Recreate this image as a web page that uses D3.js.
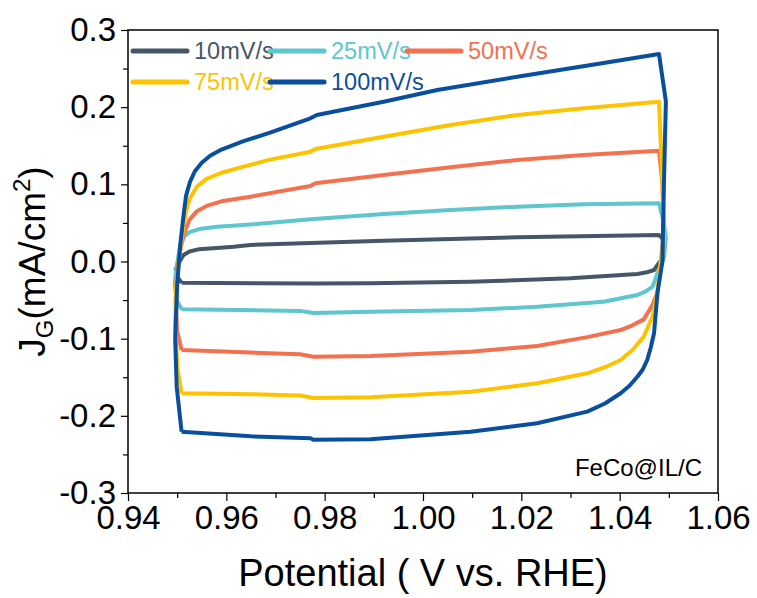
<!DOCTYPE html>
<html>
<head>
<meta charset="utf-8">
<script src="https://cdn.jsdelivr.net/npm/d3@7"></script>
<style>
  body { margin: 0; background: #fff; }
  text { font-family: "Liberation Sans", Arial, sans-serif; }
</style>
</head>
<body>
<div class="chart"></div>
<script>
// CV loops, [potential V, current density mA/cm2]
const scan10 = [
  [0.9509, -0.0275], [0.9500, -0.020], [0.9497, -0.010], [0.9505, 0.000], [0.9513, 0.0084],
  [0.9525, 0.0130], [0.9545, 0.0160], [0.9615, 0.0192], [0.9649, 0.0214], [0.9920, 0.0270],
  [1.0192, 0.0314], [1.0480, 0.0344], [1.0487, 0.030], [1.0490, 0.020], [1.0487, 0.005],
  [1.0480, -0.0019], [1.0470, -0.0110], [1.0455, -0.0140], [1.0436, -0.0162], [1.0300, -0.0218],
  [1.0097, -0.0262], [0.9893, -0.0282], [0.9777, -0.0285], [0.9509, -0.0275]
]
const scan25 = [
  [0.9509, -0.0619], [0.9499, -0.050], [0.9495, -0.030], [0.9498, -0.010], [0.9506, 0.020],
  [0.9513, 0.0320], [0.9525, 0.0380], [0.9545, 0.0420], [0.9581, 0.0451], [0.9649, 0.0480],
  [0.9771, 0.0547], [0.9920, 0.0616], [1.0056, 0.0667], [1.0192, 0.0710], [1.0327, 0.0741],
  [1.0480, 0.0754], [1.0490, 0.050], [1.0494, 0.030], [1.0490, 0.005], [1.0477, -0.0149],
  [1.0467, -0.0326], [1.0452, -0.0390], [1.0436, -0.0434], [1.0367, -0.0521], [1.0232, -0.0586],
  [1.0097, -0.0628], [0.9893, -0.0650], [0.9777, -0.0667], [0.9750, -0.0640], [0.9509, -0.0619]
]
const scan50 = [
  [0.9509, -0.1147], [0.9500, -0.090], [0.9497, -0.050], [0.9500, -0.010], [0.9508, 0.020],
  [0.9516, 0.0400], [0.9526, 0.0550], [0.9540, 0.0650], [0.9560, 0.0720], [0.9590, 0.0780],
  [0.9649, 0.0840], [0.9771, 0.0978], [0.9781, 0.1013], [0.9920, 0.1121], [1.0056, 0.1221],
  [1.0192, 0.1315], [1.0327, 0.1380], [1.0480, 0.1436], [1.0487, 0.100], [1.0490, 0.040],
  [1.0484, 0.000], [1.0477, -0.0399], [1.0467, -0.0560], [1.0449, -0.0750], [1.0425, -0.0830],
  [1.0402, -0.0888], [1.0334, -0.0980], [1.0232, -0.1095], [1.0097, -0.1169], [0.9893, -0.1224],
  [0.9777, -0.1235], [0.9750, -0.1202], [0.9650, -0.1180], [0.9509, -0.1147]
]
const scan75 = [
  [0.9509, -0.1708], [0.9501, -0.140], [0.9496, -0.0845], [0.9498, -0.030], [0.9505, 0.010],
  [0.9513, 0.0450], [0.9518, 0.0650], [0.9526, 0.0820], [0.9540, 0.0970], [0.9560, 0.1070],
  [0.9590, 0.1150], [0.9635, 0.1230], [0.9689, 0.1320], [0.9771, 0.1423], [0.9781, 0.1458],
  [0.9920, 0.1617], [1.0056, 0.1769], [1.0192, 0.1899], [1.0327, 0.1985], [1.0480, 0.2071],
  [1.0487, 0.100], [1.0490, 0.030], [1.0484, 0.002], [1.0477, -0.0399], [1.0467, -0.0710],
  [1.0449, -0.0974], [1.0427, -0.1140], [1.0402, -0.1276], [1.0370, -0.1370], [1.0334, -0.1449],
  [1.0232, -0.1578], [1.0097, -0.1687], [0.9893, -0.1760], [0.9777, -0.1769], [0.9750, -0.1735],
  [0.9650, -0.1720], [0.9509, -0.1708]
]
const scan100 = [
  [0.9509, -0.2205], [0.9499, -0.1622], [0.9496, -0.100], [0.9500, -0.030], [0.9506, 0.020],
  [0.9513, 0.0600], [0.9518, 0.0850], [0.9526, 0.1030], [0.9536, 0.1170], [0.9550, 0.1280],
  [0.9567, 0.1370], [0.9590, 0.1450], [0.9635, 0.1560], [0.9689, 0.1670], [0.9771, 0.1856],
  [0.9784, 0.1899], [0.9920, 0.2071], [1.0029, 0.2222], [1.0198, 0.2400], [1.0361, 0.2567],
  [1.0480, 0.2689], [1.0494, 0.2075], [1.0490, 0.100], [1.0487, 0.000], [1.0477, -0.0399],
  [1.0470, -0.0926], [1.0463, -0.1120], [1.0456, -0.1276], [1.0447, -0.1400], [1.0436, -0.1493],
  [1.0420, -0.1610], [1.0402, -0.1708], [1.0370, -0.1840], [1.0334, -0.1946], [1.0232, -0.2097],
  [1.0097, -0.2205], [0.9893, -0.2304], [0.9777, -0.2310], [0.9771, -0.2291], [0.9650, -0.2265],
  [0.9509, -0.2205]
]

const scanRates = ["10mV/s", "25mV/s", "50mV/s", "75mV/s", "100mV/s"]
const scans = [scan10, scan25, scan50, scan75, scan100]
const xTicks = [0.94, 0.96, 0.98, 1.00, 1.02, 1.04, 1.06]
const yTicks = [-0.3, -0.2, -0.1, 0.0, 0.1, 0.2, 0.3]
const sampleLabel = "FeCo@IL/C"

const colors = ["#465669", "#5ec6cc", "#f4714f", "#fdc300", "#0a4f9d"]

const width = 757
const height = 598
const margin = { top: 30, right: 39, bottom: 105, left: 128 }

const xScale = d3.scaleLinear()
  .domain([0.94, 1.06])
  .range([margin.left, width - margin.right])

const yScale = d3.scaleLinear()
  .domain([-0.3, 0.3])
  .range([height - margin.bottom, margin.top])

const svg = d3.select(".chart").append("svg")
  .attr("width", width)
  .attr("height", height)

// plain hyphen for negatives, as in the original figure
const fmt = spec => d => d3.format(spec)(d).replace("\u2212", "-")

// minor ticks first, majors on top
const xMinor = d3.range(0.95, 1.06, 0.02)
const yMinor = d3.range(-0.25, 0.3, 0.1)

svg.append("g")
  .attr("transform", `translate(0,${height - margin.bottom})`)
  .call(d3.axisBottom(xScale).tickValues(xMinor).tickSize(5).tickFormat(""))
  .call(g => g.select(".domain").remove())

svg.append("g")
  .attr("transform", `translate(${margin.left},0)`)
  .call(d3.axisLeft(yScale).tickValues(yMinor).tickSize(5).tickFormat(""))
  .call(g => g.select(".domain").remove())

svg.append("g")
  .attr("transform", `translate(0,${height - margin.bottom})`)
  .call(d3.axisBottom(xScale).tickValues(xTicks).tickSize(8).tickPadding(5).tickFormat(fmt(".2f")))
  .call(g => g.select(".domain").remove())
  .call(g => g.selectAll("text").attr("font-size", 33).attr("fill", "#000"))

svg.append("g")
  .attr("transform", `translate(${margin.left},0)`)
  .call(d3.axisLeft(yScale).tickValues(yTicks).tickSize(7).tickPadding(5).tickFormat(fmt(".1f")))
  .call(g => g.select(".domain").remove())
  .call(g => g.selectAll("text").attr("font-size", 33).attr("fill", "#000"))

svg.selectAll(".tick line").attr("stroke", "#000").attr("stroke-width", 1.2)

const lineGenerator = d3.line()
  .x(d => xScale(d[0]))
  .y(d => yScale(d[1]))

svg.selectAll(".cv")
  .data(scans)
  .join("path")
    .attr("class", "cv")
    .attr("d", d => lineGenerator(d))
    .attr("fill", "none")
    .attr("stroke", (d, i) => colors[i])
    .attr("stroke-width", 4)
    .attr("stroke-linejoin", "round")

// frame
svg.append("rect")
  .attr("x", margin.left)
  .attr("y", margin.top)
  .attr("width", width - margin.left - margin.right)
  .attr("height", height - margin.top - margin.bottom)
  .attr("fill", "none")
  .attr("stroke", "#000")
  .attr("stroke-width", 1.5)

// legend, 3 per row
const legend = svg.selectAll(".legend-item")
  .data(scanRates)
  .join("g")
    .attr("class", "legend-item")
    .attr("transform", (d, i) => `translate(${133 + (i % 3) * 137},${51 + Math.floor(i / 3) * 31})`)

legend.append("line")
  .attr("x1", 0).attr("x2", 54)
  .attr("stroke", (d, i) => colors[i])
  .attr("stroke-width", 5)
  .attr("stroke-linecap", "round")

legend.append("text")
  .attr("x", 61)
  .attr("dy", "0.36em")
  .attr("font-size", 23.5)
  .attr("fill", (d, i) => colors[i])
  .text(d => d)

svg.append("text")
  .attr("x", 702)
  .attr("y", 476)
  .attr("text-anchor", "end")
  .attr("font-size", 24)
  .text(sampleLabel)

svg.append("text")
  .attr("x", (margin.left + width - margin.right) / 2)
  .attr("y", 586)
  .attr("text-anchor", "middle")
  .attr("font-size", 38)
  .text("Potential ( V vs. RHE)")

const yTitle = svg.append("text")
  .attr("transform", `translate(45,${(margin.top + height - margin.bottom) / 2}) rotate(-90)`)
  .attr("text-anchor", "middle")
  .attr("font-size", 37)
yTitle.append("tspan").text("J")
yTitle.append("tspan").attr("font-size", 24).attr("dy", 8).text("G")
yTitle.append("tspan").attr("dy", -8).text("(mA/cm")
yTitle.append("tspan").attr("font-size", 24).attr("dy", -15).text("2")
yTitle.append("tspan").attr("dy", 15).text(")")
</script>
</body>
</html>
